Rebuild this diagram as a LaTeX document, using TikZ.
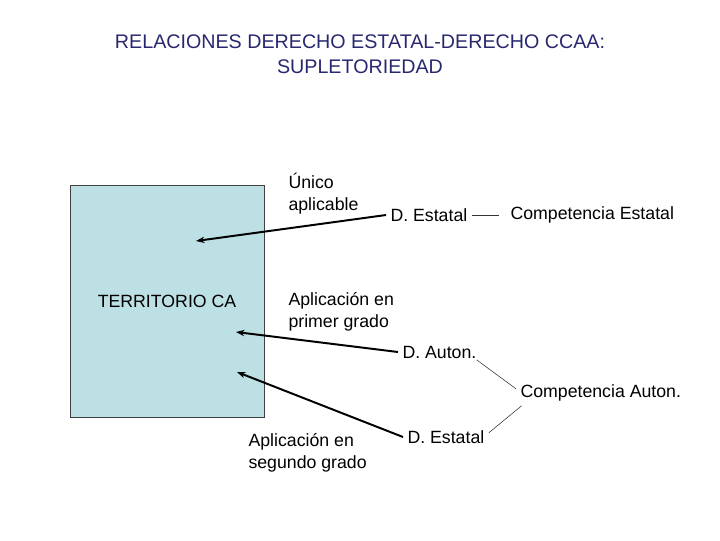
\documentclass[tikz,border=0pt]{standalone}
\usepackage{fontspec}
\setmainfont{Liberation Sans}
\usepackage{xcolor}
\definecolor{titlenavy}{RGB}{40,40,112}
\definecolor{terrcyan}{RGB}{189,224,228}
\usetikzlibrary{arrows.meta,positioning}
\tikzset{
  lbl/.style={font=\fontsize{12.6}{15.6}\selectfont, inner xsep=3pt, inner ysep=1pt,
              anchor=west, align=left},
  titlelbl/.style={font=\fontsize{14}{17.7}\selectfont, text=titlenavy, align=center},
  terrbox/.style={draw=black!75, fill=terrcyan, line width=0.5pt,
                  font=\fontsize{12.6}{15.6}\selectfont,
                  minimum width=4.85cm, minimum height=5.8cm},
  pointer/.style={-{Stealth[length=6pt,width=4.5pt]}, line width=1.4pt},
  thinline/.style={draw=black!80, line width=0.4pt},
}

\begin{document}
\begin{tikzpicture}[x=0.025cm, y=-0.025cm]
\useasboundingbox (0,0) rectangle (720,540);

% --- Title ---
\node[titlelbl] (title) at (360,54) {RELACIONES DERECHO ESTATAL-DERECHO CCAA:\\SUPLETORIEDAD};

% --- Territory ---
\node[terrbox] (terr) at (167,301) {TERRITORIO CA};
\coordinate (tgtunico) at (196,241);
\coordinate (tgtprimer) at (236,332);
\coordinate (tgtsegundo) at (237,372);

% --- Labels ---
\node[lbl] (unico) at (284,194) {Único\\aplicable};
\node[lbl] (destatal) at (386,215) {D. Estatal};
\node[lbl] (compest) at (506,215) {Competencia Estatal};
\node[lbl] (primer) at (284,312) {Aplicación en\\primer grado};
\node[lbl] (dauton) at (398,352) {D. Auton.};
\node[lbl] (compaut) at (516,393) {Competencia Auton.};
\node[lbl] (destatalb) at (403,437) {D. Estatal};
\node[lbl] (segundo) at (244,453) {Aplicación en\\segundo grado};

% --- Connectors ---
\draw[thinline, shorten >=5pt] (destatal.east) -- (compest.west);
\draw[thinline] ([xshift=-3pt]dauton.south east) -- ([yshift=3pt]compaut.west);
\draw[thinline] ([xshift=4pt,yshift=-2pt]compaut.south west) -- ([yshift=3pt]destatalb.east);

% --- Arrows into territory ---
\draw[pointer] (destatal.west) -- (tgtunico);
\draw[pointer] (dauton.west) -- (tgtprimer);
\draw[pointer] (destatalb.west) -- (tgtsegundo);

\end{tikzpicture}
\end{document}
